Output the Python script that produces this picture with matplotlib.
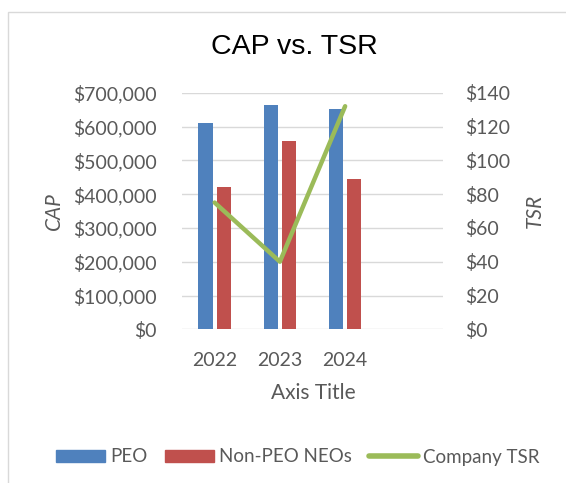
import matplotlib
matplotlib.use("Agg")
import matplotlib.pyplot as plt
import numpy as np
from matplotlib.patches import Rectangle, Patch
from matplotlib.lines import Line2D
from matplotlib.ticker import FuncFormatter

years = ["2022", "2023", "2024"]
peo_cap = [609000, 664000, 652000]
non_peo_cap = [420000, 556000, 445000]
company_tsr = [75, 40, 132]

W, H = 566, 483
BLUE = "#4F81BD"
RED = "#C0504D"
GREEN = "#9BBB59"
GRAY = "#595959"
GRID = "#D9D9D9"
FONT = "Lato"

plt.rcParams["font.family"] = [FONT, "DejaVu Sans"]

fig = plt.figure(figsize=(W / 100, H / 100), dpi=100)
fig.patch.set_facecolor("white")

# light chart border (Excel chart area)
fig.patches.append(Rectangle((8 / W, -0.1), 1.2, 1.1 - 12 / H,
                             transform=fig.transFigure, fill=False,
                             edgecolor=GRID, linewidth=1.0))

ax = fig.add_axes([182 / W, 1 - 329.3 / H, (443 - 182) / W, (329.3 - 92.7) / H])
x = np.arange(len(years))
bw = 0.22
ax.bar(x - 0.14, peo_cap, bw, color=BLUE, zorder=3)
ax.bar(x + 0.14, non_peo_cap, bw, color=RED, zorder=3)

ax.set_xlim(-0.5, 3.5)
ax.set_ylim(0, 700000)
ax.set_yticks(np.arange(0, 700001, 100000))
ax.yaxis.set_major_formatter(FuncFormatter(lambda v, p: f"${v:,.0f}"))
ax.set_xticks(x)
ax.set_xticklabels(years)
ax.grid(axis="y", color=GRID, linewidth=1.0, zorder=0)
ax.set_axisbelow(True)
for s in ax.spines.values():
    s.set_visible(False)
ax.tick_params(axis="y", length=0, pad=18, labelsize=14, labelcolor=GRAY)
ax.tick_params(axis="x", length=0, pad=16, labelsize=14, labelcolor=GRAY)

ax2 = ax.twinx()
ax2.plot(x, company_tsr, color=GREEN, linewidth=3.2, solid_capstyle="round",
         solid_joinstyle="round", zorder=4)
ax2.set_ylim(0, 140)
ax2.set_yticks(np.arange(0, 141, 20))
ax2.yaxis.set_major_formatter(FuncFormatter(lambda v, p: f"${v:,.0f}"))
for s in ax2.spines.values():
    s.set_visible(False)
ax2.tick_params(axis="y", length=0, pad=16, labelsize=14, labelcolor=GRAY)

fig.text(294 / W, 1 - 47 / H, "CAP vs. TSR", ha="center", va="center",
         fontsize=20.5, family=["Liberation Sans", "DejaVu Sans"], color="black")
fig.text(313 / W, 1 - 393 / H, "Axis Title", ha="center", va="center",
         fontsize=15, color=GRAY)
fig.text(54 / W, 1 - 211 / H, "CAP", ha="center", va="center", rotation=90,
         fontsize=15, style="italic", color=GRAY)
fig.text(535 / W, 1 - 211 / H, "TSR", ha="center", va="center", rotation=90,
         fontsize=15, style="italic", color=GRAY)

handles = [Patch(color=BLUE), Patch(color=RED),
           Line2D([0], [0], color=GREEN, linewidth=4, solid_capstyle="round")]
leg = fig.legend(handles, ["PEO", "Non-PEO NEOs", "Company TSR"], ncol=3,
                 loc="center", bbox_to_anchor=(298 / W, 1 - 457 / H),
                 frameon=False, fontsize=13.5, handlelength=2.6,
                 handleheight=0.6, handletextpad=0.3, columnspacing=0.9,
                 labelcolor=GRAY, borderpad=0)

fig.savefig("out.png", dpi=100)
